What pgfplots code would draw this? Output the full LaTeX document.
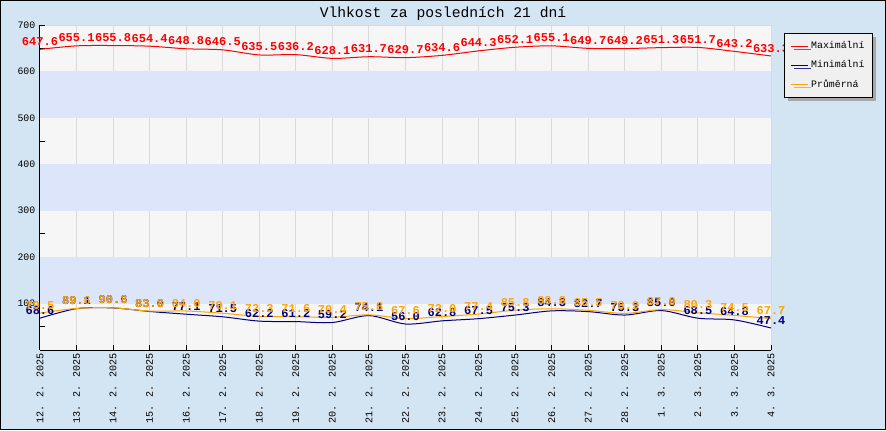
\documentclass[border=0pt]{standalone}
\usepackage{fontspec}
\setmainfont{Liberation Mono}
\usepackage{pgfplots}
\usepackage{pgfplotstable}
\pgfplotsset{compat=1.18}
\usetikzlibrary{shadows}

\definecolor{bgblue}{RGB}{211,228,242}
\definecolor{band}{RGB}{221,229,251}
\definecolor{plotbg}{RGB}{246,246,246}
\definecolor{gridgray}{RGB}{218,218,218}
\definecolor{minblue}{RGB}{0,0,128}
\definecolor{avgorange}{RGB}{255,165,0}
\definecolor{legfill}{RGB}{240,240,240}

% den, maximum, minimum, prumer
\pgfplotstableread{
i  max   min   avg
0  647.6 68.6  79.5
1  655.1 89.1  89.6
2  655.8 90.6  90.8
3  654.4 83.0  83.8
4  648.8 77.1  84.0
5  646.5 71.5  79.1
6  635.5 62.2  72.3
7  636.2 61.2  71.6
8  628.1 59.2  70.4
9  631.7 74.1  75.8
10 629.7 56.0  67.6
11 634.6 62.8  72.0
12 644.3 67.5  77.4
13 652.1 75.3  85.8
14 655.1 84.3  88.8
15 649.7 82.7  85.5
16 649.2 75.3  78.9
17 651.3 85.0  87.0
18 651.7 68.5  80.3
19 643.2 64.8  74.5
20 633.3 47.4  67.7
}\data

\pgfplotsset{
  /pgf/number format/assume math mode=true,
  lbl/.style={
    nodes near coords,
    nodes near coords style={
      /pgf/number format/.cd, fixed, fixed zerofill, precision=1, /tikz/.cd,
      font=\bfseries\fontsize{9}{10}\selectfont, text=#1,
      anchor=south, inner sep=1pt, yshift=1.5pt},
  },
}

\begin{document}
\begin{tikzpicture}
\fill[bgblue] (0pt,0pt) rectangle (664.5pt,322.5pt);
\draw[black, line width=0.75pt] (0.375pt,0.375pt) rectangle (664.125pt,322.125pt);
\node[font=\fontsize{11}{13}\selectfont] at (332.25pt,312.5pt) {Vlhkost za posledních 21 dní};
\begin{axis}[
  at={(30pt,60pt)}, anchor=south west,
  scale only axis, width=548.25pt, height=243.75pt,
  xmin=0, xmax=20, ymin=0, ymax=700,
  axis x line*=bottom, axis y line*=left,
  axis line style={black, line width=0.75pt},
  axis background/.style={fill=plotbg},
  clip=false,
  xtick={0,...,20},
  xticklabels={12. 2. 2025,13. 2. 2025,14. 2. 2025,15. 2. 2025,16. 2. 2025,17. 2. 2025,18. 2. 2025,19. 2. 2025,20. 2. 2025,21. 2. 2025,22. 2. 2025,23. 2. 2025,24. 2. 2025,25. 2. 2025,26. 2. 2025,27. 2. 2025,28. 2. 2025,1. 3. 2025,2. 3. 2025,3. 3. 2025,4. 3. 2025},
  x tick label style={rotate=90, anchor=east, font=\fontsize{7.6}{9}\selectfont, inner sep=2pt},
  ytick={100,200,...,700},
  minor ytick={50,150,...,650},
  y tick label style={font=\fontsize{7.4}{9}\selectfont},
  tick align=inside,
  major tick length=3.75pt, minor tick length=3.75pt,
  tick style={black, line width=0.75pt},
  xmajorgrids, ymajorgrids,
  major grid style={gridgray, line width=0.75pt},
  legend style={at={(1.0178,0.975)}, anchor=north west,
    fill=legfill, draw=black, line width=0.75pt,
    font=\fontsize{7.4}{9}\selectfont,
    drop shadow={shadow xshift=2.5pt, shadow yshift=-2.5pt, fill=gray!80, opacity=0.8},
    row sep=3.5pt, inner xsep=4pt, inner ysep=4pt},
  legend cell align=left,
  legend image code/.code={\draw[#1, line width=1pt] (0pt,0pt) -- (13pt,0pt);},
]
% pasy v pozadi
\fill[band] (axis cs:0,100) rectangle (axis cs:20,200);
\fill[band] (axis cs:0,300) rectangle (axis cs:20,400);
\fill[band] (axis cs:0,500) rectangle (axis cs:20,600);

\addplot[red, line width=0.75pt, smooth, lbl=red] table[x=i, y=max] {\data};
\addplot[minblue, line width=0.75pt, smooth, lbl=minblue] table[x=i, y=min] {\data};
\addplot[avgorange, line width=0.75pt, smooth, lbl=avgorange] table[x=i, y=avg] {\data};
\legend{Maximální, Minimální, Průměrná}
\end{axis}
\end{tikzpicture}
\end{document}
